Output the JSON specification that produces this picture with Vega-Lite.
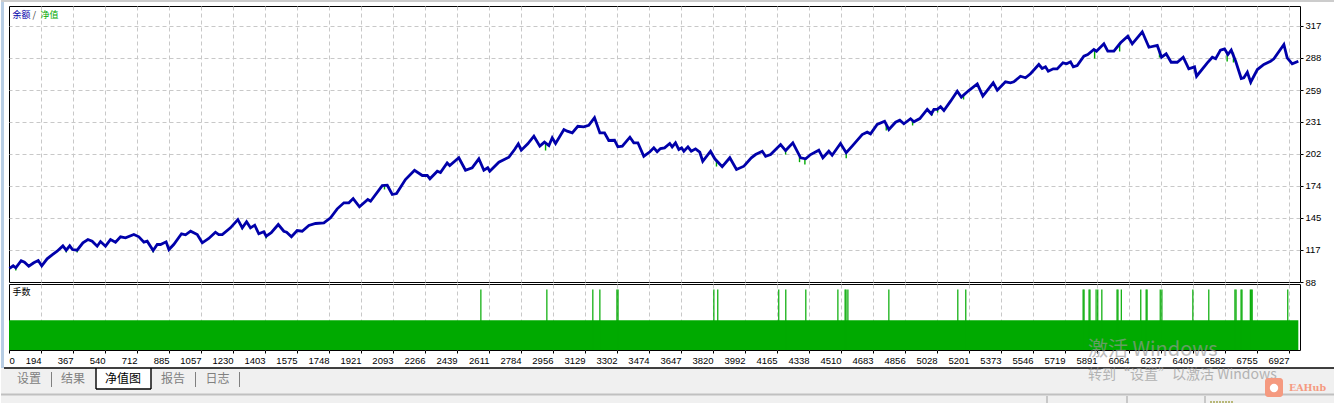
{
  "$schema": "https://vega.github.io/schema/vega-lite/v6.json",
  "background": "#ffffff",
  "padding": 0,
  "autosize": {"type": "pad"},
  "bounds": "flush",
  "spacing": 2,
  "config": {
    "view": {"stroke": "#000000", "strokeWidth": 1},
    "axis": {"labelFont": "Liberation Sans", "labelFontSize": 9.5, "labelColor": "#000000", "tickColor": "#000000", "tickSize": 3, "tickCount": 100, "labelPadding": 2, "domain": false, "title": null, "gridDash": [4, 3], "gridWidth": 1, "gridOpacity": 1, "labelFlush": false, "labelOverlap": false, "labelBound": false},
    "text": {"font": "Noto Sans CJK SC"}
  },
  "datasets": {
    "balance": [
      {"n":24,"v":100.1},{"n":44,"v":102.5},{"n":58,"v":100.7},{"n":87,"v":107.0},{"n":105,"v":105.7},{"n":128,"v":102.1},{"n":155,"v":105.2},{"n":179,"v":107.2},{"n":198,"v":102.5},{"n":227,"v":108.7},{"n":254,"v":112.3},{"n":281,"v":115.5},{"n":312,"v":120.3},{"n":330,"v":116.4},{"n":349,"v":120.3},{"n":364,"v":117.0},{"n":389,"v":116.4},{"n":420,"v":123.0},{"n":447,"v":126.0},{"n":470,"v":124.5},{"n":497,"v":120.0},{"n":515,"v":124.2},{"n":542,"v":120.0},{"n":569,"v":126.0},{"n":596,"v":123.6},{"n":623,"v":128.4},{"n":650,"v":127.5},{"n":695,"v":130.4},{"n":722,"v":128.4},{"n":749,"v":123.6},{"n":767,"v":124.5},{"n":799,"v":116.1},{"n":821,"v":121.5},{"n":839,"v":121.5},{"n":869,"v":123.9},{"n":884,"v":117.0},{"n":910,"v":121.5},{"n":952,"v":131.1},{"n":974,"v":130.2},{"n":1001,"v":133.4},{"n":1037,"v":130.4},{"n":1064,"v":123.0},{"n":1099,"v":126.9},{"n":1135,"v":132.5},{"n":1153,"v":130.4},{"n":1172,"v":130.4},{"n":1216,"v":136.4},{"n":1256,"v":143.8},{"n":1280,"v":136.4},{"n":1303,"v":141.8},{"n":1324,"v":136.4},{"n":1347,"v":138.8},{"n":1369,"v":131.1},{"n":1396,"v":132.9},{"n":1409,"v":129.0},{"n":1436,"v":132.0},{"n":1474,"v":139.4},{"n":1504,"v":133.4},{"n":1519,"v":132.5},{"n":1545,"v":128.4},{"n":1576,"v":134.0},{"n":1603,"v":133.4},{"n":1639,"v":138.5},{"n":1675,"v":140.3},{"n":1720,"v":140.9},{"n":1756,"v":145.4},{"n":1792,"v":153.4},{"n":1828,"v":158.8},{"n":1855,"v":158.8},{"n":1878,"v":162.6},{"n":1912,"v":155.2},{"n":1957,"v":161.7},{"n":1972,"v":160.2},{"n":2035,"v":174.2},{"n":2062,"v":174.5},{"n":2089,"v":166.2},{"n":2112,"v":167.1},{"n":2160,"v":179.6},{"n":2209,"v":187.9},{"n":2251,"v":183.2},{"n":2278,"v":183.2},{"n":2292,"v":180.2},{"n":2332,"v":187.0},{"n":2349,"v":185.9},{"n":2385,"v":194.5},{"n":2399,"v":192.1},{"n":2448,"v":199.0},{"n":2484,"v":187.9},{"n":2520,"v":190.1},{"n":2556,"v":198.1},{"n":2583,"v":187.9},{"n":2604,"v":190.1},{"n":2615,"v":187.0},{"n":2664,"v":195.1},{"n":2718,"v":199.5},{"n":2749,"v":206.4},{"n":2769,"v":211.5},{"n":2785,"v":205.8},{"n":2820,"v":211.5},{"n":2853,"v":218.3},{"n":2885,"v":209.4},{"n":2910,"v":213.0},{"n":2934,"v":210.0},{"n":2952,"v":216.9},{"n":2970,"v":211.8},{"n":3015,"v":224.3},{"n":3033,"v":222.8},{"n":3060,"v":221.3},{"n":3090,"v":227.2},{"n":3122,"v":226.7},{"n":3149,"v":228.1},{"n":3180,"v":234.8},{"n":3209,"v":221.3},{"n":3234,"v":221.3},{"n":3257,"v":214.5},{"n":3288,"v":214.7},{"n":3306,"v":208.8},{"n":3330,"v":209.4},{"n":3371,"v":217.4},{"n":3392,"v":212.4},{"n":3414,"v":212.4},{"n":3446,"v":200.4},{"n":3479,"v":204.4},{"n":3500,"v":207.9},{"n":3518,"v":204.4},{"n":3536,"v":207.3},{"n":3558,"v":207.9},{"n":3586,"v":211.8},{"n":3599,"v":208.8},{"n":3617,"v":212.4},{"n":3635,"v":206.4},{"n":3650,"v":207.9},{"n":3662,"v":204.9},{"n":3684,"v":208.8},{"n":3702,"v":204.9},{"n":3725,"v":207.0},{"n":3748,"v":204.0},{"n":3764,"v":195.9},{"n":3806,"v":204.9},{"n":3829,"v":198.1},{"n":3869,"v":191.0},{"n":3910,"v":199.0},{"n":3946,"v":188.5},{"n":3986,"v":191.5},{"n":4026,"v":199.0},{"n":4049,"v":201.9},{"n":4085,"v":204.9},{"n":4103,"v":200.4},{"n":4130,"v":201.9},{"n":4184,"v":210.9},{"n":4211,"v":205.5},{"n":4250,"v":212.4},{"n":4292,"v":199.0},{"n":4319,"v":198.1},{"n":4346,"v":201.9},{"n":4390,"v":205.8},{"n":4412,"v":199.0},{"n":4444,"v":204.9},{"n":4462,"v":201.3},{"n":4507,"v":211.8},{"n":4538,"v":203.5},{"n":4570,"v":209.4},{"n":4624,"v":219.8},{"n":4651,"v":221.9},{"n":4669,"v":220.4},{"n":4705,"v":228.8},{"n":4745,"v":231.7},{"n":4768,"v":224.3},{"n":4804,"v":230.8},{"n":4827,"v":232.6},{"n":4849,"v":229.4},{"n":4885,"v":233.9},{"n":4903,"v":231.2},{"n":4935,"v":234.1},{"n":4975,"v":242.2},{"n":4997,"v":238.3},{"n":5011,"v":242.2},{"n":5029,"v":242.2},{"n":5047,"v":244.6},{"n":5065,"v":241.3},{"n":5101,"v":249.6},{"n":5137,"v":258.5},{"n":5159,"v":253.2},{"n":5199,"v":259.1},{"n":5245,"v":265.1},{"n":5275,"v":254.1},{"n":5331,"v":266.0},{"n":5353,"v":259.4},{"n":5397,"v":266.9},{"n":5424,"v":266.0},{"n":5442,"v":266.9},{"n":5478,"v":271.9},{"n":5505,"v":270.5},{"n":5532,"v":274.1},{"n":5577,"v":282.4},{"n":5595,"v":278.8},{"n":5613,"v":280.3},{"n":5628,"v":276.4},{"n":5655,"v":278.5},{"n":5676,"v":278.5},{"n":5707,"v":283.9},{"n":5727,"v":283.0},{"n":5748,"v":284.8},{"n":5763,"v":280.3},{"n":5784,"v":281.5},{"n":5820,"v":289.8},{"n":5841,"v":291.3},{"n":5874,"v":295.8},{"n":5888,"v":294.3},{"n":5928,"v":300.9},{"n":5949,"v":294.3},{"n":5982,"v":294.3},{"n":6018,"v":301.8},{"n":6057,"v":307.7},{"n":6081,"v":300.9},{"n":6135,"v":311.6},{"n":6171,"v":297.8},{"n":6216,"v":299.4},{"n":6239,"v":288.9},{"n":6264,"v":291.9},{"n":6291,"v":284.4},{"n":6324,"v":284.4},{"n":6356,"v":288.9},{"n":6386,"v":278.5},{"n":6417,"v":280.3},{"n":6428,"v":271.9},{"n":6486,"v":283.9},{"n":6513,"v":288.9},{"n":6531,"v":287.5},{"n":6557,"v":295.2},{"n":6579,"v":296.4},{"n":6597,"v":291.3},{"n":6615,"v":295.2},{"n":6639,"v":285.3},{"n":6669,"v":269.9},{"n":6683,"v":270.5},{"n":6702,"v":275.5},{"n":6720,"v":266.6},{"n":6756,"v":277.9},{"n":6791,"v":282.4},{"n":6827,"v":285.3},{"n":6845,"v":287.5},{"n":6899,"v":300.3},{"n":6917,"v":288.4},{"n":6944,"v":283.0},{"n":6977,"v":285.3}
    ],
    "equity": [
      {"n":58,"bal":100.7,"eq":98.3},{"n":330,"bal":116.4,"eq":114.4},{"n":389,"bal":116.4,"eq":114.4},{"n":799,"bal":116.1,"eq":114.4},{"n":1280,"bal":136.4,"eq":134.9},{"n":1409,"bal":129.0,"eq":126.9},{"n":2047,"bal":174,"eq":170.7},{"n":2916,"bal":213,"eq":205.5},{"n":3838,"bal":197,"eq":191.2},{"n":4211,"bal":205.5,"eq":201.9},{"n":4286,"bal":200,"eq":195.1},{"n":4315,"bal":198.5,"eq":193.0},{"n":4538,"bal":203.5,"eq":198.6},{"n":4754,"bal":228,"eq":223.4},{"n":4896,"bal":232,"eq":227.9},{"n":5002,"bal":240,"eq":236.8},{"n":5031,"bal":242,"eq":239.5},{"n":5171,"bal":255,"eq":251.1},{"n":5878,"bal":295.5,"eq":287.7},{"n":6013,"bal":300,"eq":294},{"n":6228,"bal":296,"eq":288.6},{"n":6593,"bal":292,"eq":285.1},{"n":6627,"bal":293,"eq":284.2},{"n":6720,"bal":266.6,"eq":264.5}
    ],
    "lots": [
      {"n":2567,"lots":0.02},{"n":2923,"lots":0.02},{"n":3171,"lots":0.02},{"n":3209,"lots":0.02},{"n":3301,"lots":0.02},{"n":3307,"lots":0.02},{"n":3824,"lots":0.02},{"n":3845,"lots":0.02},{"n":4174,"lots":0.02},{"n":4212,"lots":0.02},{"n":4320,"lots":0.02},{"n":4493,"lots":0.02},{"n":4532,"lots":0.02},{"n":4537,"lots":0.02},{"n":4547,"lots":0.02},{"n":4768,"lots":0.02},{"n":5140,"lots":0.02},{"n":5183,"lots":0.02},{"n":5816,"lots":0.02},{"n":5821,"lots":0.02},{"n":5848,"lots":0.02},{"n":5853,"lots":0.02},{"n":5886,"lots":0.02},{"n":5895,"lots":0.02},{"n":5917,"lots":0.02},{"n":5999,"lots":0.02},{"n":6004,"lots":0.02},{"n":6022,"lots":0.02},{"n":6127,"lots":0.02},{"n":6156,"lots":0.02},{"n":6161,"lots":0.02},{"n":6232,"lots":0.02},{"n":6241,"lots":0.02},{"n":6408,"lots":0.02},{"n":6494,"lots":0.02},{"n":6635,"lots":0.02},{"n":6641,"lots":0.02},{"n":6668,"lots":0.02},{"n":6673,"lots":0.02},{"n":6718,"lots":0.02},{"n":6723,"lots":0.02},{"n":6728,"lots":0.02},{"n":6920,"lots":0.02}
    ]
  },
  "vconcat": [
    {
      "width": 1291,
      "height": 276,
      "layer": [
        {
          "data": {"name": "equity"},
          "mark": {"type": "rule", "color": "#00aa00", "strokeWidth": 1.4},
          "encoding": {
            "x": {"field": "n", "type": "quantitative", "title": null, "scale": {"domain": [21.36, 6986], "nice": false, "zero": false}, "axis": {"values": [194,367,540,712,885,1057,1230,1403,1575,1748,1921,2093,2266,2439,2611,2784,2956,3129,3302,3474,3647,3820,3992,4165,4338,4510,4683,4856,5028,5201,5373,5546,5719,5891,6064,6237,6409,6582,6755,6927], "gridColor": "#c8c8c8", "grid": true, "labels": false, "ticks": false}},
            "y": {"field": "eq", "type": "quantitative", "title": null, "scale": {"domain": [88, 334.67], "nice": false, "zero": false}, "axis": {"orient": "right", "values": [88,116.6,145.2,173.8,202.4,231,259.4,288.2,316.8], "format": "d", "grid": true, "gridColor": {"condition": {"test": "datum.value < 100", "value": "transparent"}, "value": "#c8c8c8"}}},
            "y2": {"field": "bal"}
          }
        },
        {
          "data": {"name": "balance"},
          "mark": {"type": "line", "color": "#0000aa", "strokeWidth": 2.8},
          "encoding": {
            "x": {"field": "n", "type": "quantitative"},
            "y": {"field": "v", "type": "quantitative"}
          }
        },
        {
          "data": {"values": [{"n": 40, "v": 327, "t": "余额"}]},
          "mark": {"type": "text", "align": "left", "baseline": "middle", "fontSize": 9, "color": "#0000aa"},
          "encoding": {"x": {"field": "n", "type": "quantitative"}, "y": {"field": "v", "type": "quantitative"}, "text": {"field": "t"}}
        },
        {
          "data": {"values": [{"n": 148, "v": 327, "t": "/"}]},
          "mark": {"type": "text", "align": "left", "baseline": "middle", "fontSize": 9, "color": "#333333"},
          "encoding": {"x": {"field": "n", "type": "quantitative"}, "y": {"field": "v", "type": "quantitative"}, "text": {"field": "t"}}
        },
        {
          "data": {"values": [{"n": 191, "v": 327, "t": "净值"}]},
          "mark": {"type": "text", "align": "left", "baseline": "middle", "fontSize": 9, "color": "#00aa00"},
          "encoding": {"x": {"field": "n", "type": "quantitative"}, "y": {"field": "v", "type": "quantitative"}, "text": {"field": "t"}}
        }
      ]
    },
    {
      "width": 1291,
      "height": 66,
      "layer": [
        {
          "data": {"values": [{"start": 21.36, "end": 6977, "lots": 0.0098}]},
          "mark": {"type": "rect", "color": "#00aa00"},
          "encoding": {
            "x": {"field": "start", "type": "quantitative", "title": null, "scale": {"domain": [21.36, 6986], "nice": false, "zero": false}, "axis": {"values": [21.36,194,367,540,712,885,1057,1230,1403,1575,1748,1921,2093,2266,2439,2611,2784,2956,3129,3302,3474,3647,3820,3992,4165,4338,4510,4683,4856,5028,5201,5373,5546,5719,5891,6064,6237,6409,6582,6755,6927], "grid": true, "gridColor": {"condition": {"test": "datum.value < 100", "value": "transparent"}, "value": "#c8c8c8"}, "labelExpr": "datum.value < 100 ? '0' : format(datum.value, 'd')", "labelAlign": {"condition": {"test": "datum.value < 100", "value": "left"}, "value": "right"}}},
            "x2": {"field": "end"},
            "y": {"field": "lots", "type": "quantitative", "scale": {"domain": [0, 0.0218], "nice": false}, "axis": null},
            "y2": {"datum": 0}
          }
        },
        {
          "data": {"name": "lots"},
          "mark": {"type": "rule", "color": "#00aa00", "strokeWidth": 1.2},
          "encoding": {
            "x": {"field": "n", "type": "quantitative"},
            "y": {"field": "lots", "type": "quantitative"},
            "y2": {"datum": 0}
          }
        },
        {
          "data": {"values": [{"n": 40, "lots": 0.0193, "t": "手数"}]},
          "mark": {"type": "text", "align": "left", "baseline": "middle", "fontSize": 9, "color": "#000000"},
          "encoding": {"x": {"field": "n", "type": "quantitative"}, "y": {"field": "lots", "type": "quantitative"}, "text": {"field": "t"}}
        }
      ]
    },
    {
      "width": 1326,
      "height": 51,
      "view": {"stroke": null},
      "encoding": {
        "x": {"field": "x", "type": "quantitative", "scale": {"domain": [8, 1334], "nice": false, "zero": false}, "axis": null},
        "y": {"field": "y", "type": "quantitative", "scale": {"domain": [403, 352], "nice": false, "zero": false}, "axis": null}
      },
      "layer": [
        {
          "data": {"values": [{"x": 0, "x2": 1334, "y": 368, "y2": 403}]},
          "mark": {"type": "rect", "color": "#f0f0f0"},
          "encoding": {"x2": {"field": "x2"}, "y2": {"field": "y2"}}
        },
        {
          "data": {"values": [{"x": 0, "x2": 1334, "y": 0, "y2": 2}]},
          "mark": {"type": "rect", "color": "#cccccc"},
          "encoding": {"x2": {"field": "x2"}, "y2": {"field": "y2"}}
        },
        {
          "data": {"values": [{"x": 0, "x2": 3, "y": 2, "y2": 368}]},
          "mark": {"type": "rect", "color": "#b7cde4"},
          "encoding": {"x2": {"field": "x2"}, "y2": {"field": "y2"}}
        },
        {
          "data": {"values": [{"x": 95, "x2": 150, "y": 368, "y2": 389}]},
          "mark": {"type": "rect", "color": "#ffffff"},
          "encoding": {"x2": {"field": "x2"}, "y2": {"field": "y2"}}
        },
        {
          "data": {"values": [{"x": 3, "x2": 1334, "y": 368, "y2": 368}, {"x": 95, "x2": 95, "y": 368, "y2": 389}, {"x": 150, "x2": 150, "y": 368, "y2": 389}, {"x": 95, "x2": 150, "y": 389, "y2": 389}]},
          "mark": {"type": "rule", "color": "#000000", "strokeWidth": 1.4},
          "encoding": {"x2": {"field": "x2"}, "y2": {"field": "y2"}}
        },
        {
          "data": {"values": [{"x": 50.5, "y": 372, "y2": 387}, {"x": 194.5, "y": 372, "y2": 387}, {"x": 238.5, "y": 372, "y2": 387}]},
          "mark": {"type": "rule", "color": "#808080", "strokeWidth": 1},
          "encoding": {"y2": {"field": "y2"}}
        },
        {
          "data": {"values": [{"x": 0, "x2": 1334, "y": 394.5, "y2": 394.5}]},
          "mark": {"type": "rule", "color": "#c0c0c0", "strokeWidth": 2},
          "encoding": {"x2": {"field": "x2"}, "y2": {"field": "y2"}}
        },
        {
          "data": {"values": [{"x": 1046, "y": 396, "y2": 403}, {"x": 1126, "y": 396, "y2": 403}, {"x": 1204, "y": 396, "y2": 403}]},
          "mark": {"type": "rule", "color": "#a0a0a0", "strokeWidth": 1},
          "encoding": {"y2": {"field": "y2"}}
        },
        {
          "data": {"values": [{"x": 1209, "x2": 1232, "y": 402, "y2": 402}]},
          "mark": {"type": "rule", "color": "#808000", "strokeWidth": 1, "strokeDash": [2, 1]},
          "encoding": {"x2": {"field": "x2"}, "y2": {"field": "y2"}}
        },
        {
          "data": {"values": [{"x": 28, "y": 379, "t": "设置"}, {"x": 72, "y": 379, "t": "结果"}, {"x": 172, "y": 379, "t": "报告"}, {"x": 216.5, "y": 379, "t": "日志"}]},
          "mark": {"type": "text", "fontSize": 12, "baseline": "middle", "color": "#808080"},
          "encoding": {"text": {"field": "t"}}
        },
        {
          "data": {"values": [{"x": 122, "y": 379, "t": "净值图"}]},
          "mark": {"type": "text", "fontSize": 12, "baseline": "middle", "color": "#000000"},
          "encoding": {"text": {"field": "t"}}
        },
        {
          "data": {"values": [{"x": 1087, "y": 350, "t": "激活 Windows"}]},
          "mark": {"type": "text", "fontSize": 20, "align": "left", "baseline": "middle", "color": "#999999", "opacity": 0.65},
          "encoding": {"text": {"field": "t"}}
        },
        {
          "data": {"values": [{"x": 1087, "y": 375, "t": "转到“设置”以激活 Windows"}]},
          "mark": {"type": "text", "fontSize": 14, "align": "left", "baseline": "middle", "color": "#999999", "opacity": 0.7},
          "encoding": {"text": {"field": "t"}}
        },
        {
          "data": {"values": [{"x": 1264, "x2": 1282, "y": 378, "y2": 397}]},
          "mark": {"type": "rect", "color": "#f59a80", "cornerRadius": 3},
          "encoding": {"x2": {"field": "x2"}, "y2": {"field": "y2"}}
        },
        {
          "data": {"values": [{"x": 1273, "y": 388}]},
          "mark": {"type": "point", "filled": true, "color": "#ffffff", "opacity": 1, "size": 70},
          "encoding": {}
        },
        {
          "data": {"values": [{"x": 1288, "y": 388, "t": "EAHub"}]},
          "mark": {"type": "text", "font": "DejaVu Serif", "fontWeight": "bold", "fontSize": 9.5, "align": "left", "baseline": "middle", "color": "#f59a80"},
          "encoding": {"text": {"field": "t"}}
        }
      ]
    }
  ]
}
